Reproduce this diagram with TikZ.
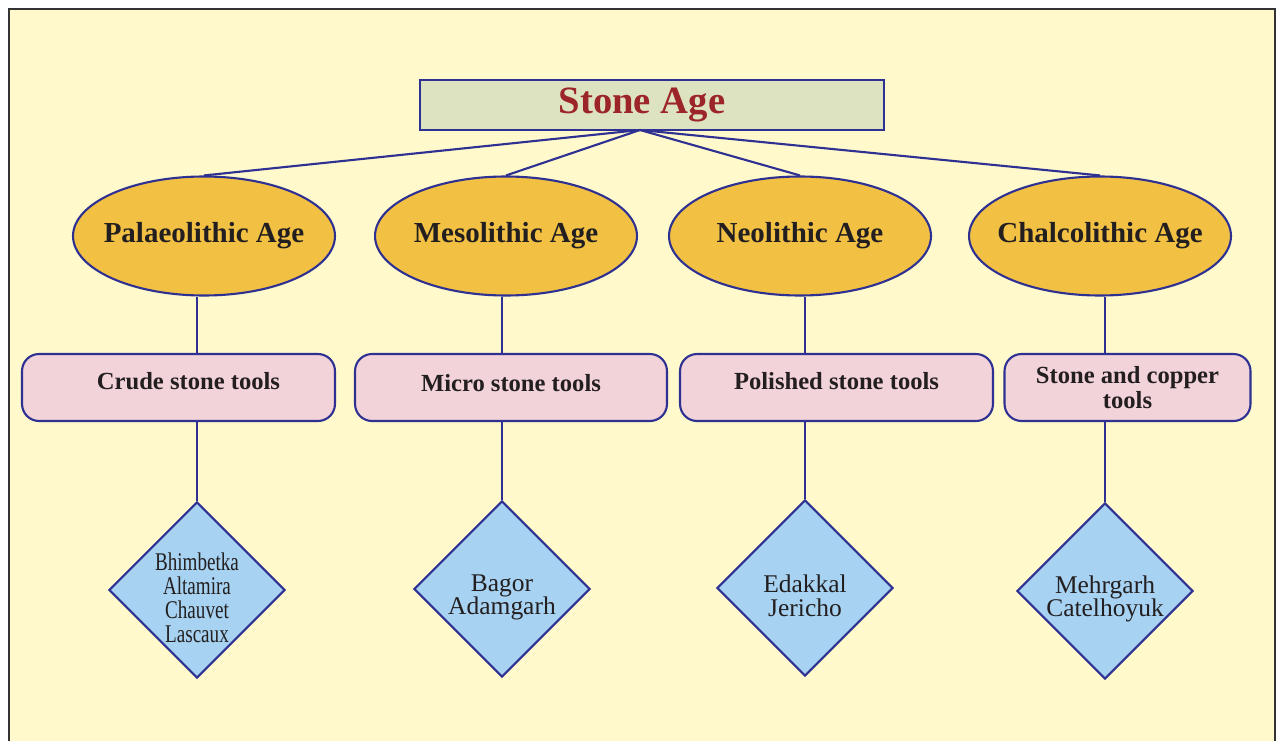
\documentclass[tikz,border=0pt]{standalone}
\usepackage{fontspec}
\setmainfont{Liberation Serif}
\newfontfamily\narrowserif{Liberation Serif}[FakeStretch=0.75]
\usetikzlibrary{shapes.geometric}

\definecolor{paper}{HTML}{FFF9CC}
\definecolor{frameline}{HTML}{333333}
\definecolor{navy}{HTML}{2E3192}
\definecolor{titlefill}{HTML}{DDE3C0}
\definecolor{titletext}{HTML}{9B2529}
\definecolor{agefill}{HTML}{F2C144}
\definecolor{toolfill}{HTML}{F3D3DA}
\definecolor{sitefill}{HTML}{A7D2F1}
\definecolor{ink}{HTML}{231F20}

% strut that pushes the site names a little down
\newcommand{\sitelift}{\rule{0pt}{19pt}}

\begin{document}
\begin{tikzpicture}[
    x=0.02cm, y=-0.02cm,
    titlebox/.style={
      rectangle, draw=navy, line width=1.2pt, fill=titlefill,
      minimum width=9.28cm, minimum height=1cm, inner sep=0pt,
      text=titletext, font=\fontsize{22}{24}\selectfont\bfseries
    },
    agebox/.style={
      ellipse, draw=navy, line width=1.2pt, fill=agefill,
      minimum width=5.24cm, minimum height=2.38cm, inner sep=-9pt,
      text=ink, font=\fontsize{16.5}{19}\selectfont\bfseries
    },
    toolbox/.style={
      rectangle, rounded corners=0.34cm, draw=navy, line width=1.2pt,
      fill=toolfill, minimum height=1.34cm, inner sep=0pt, align=center,
      text=ink, font=\fontsize{14}{14.5}\selectfont\bfseries
    },
    sitebox/.style={
      diamond, draw=navy, line width=1.2pt, fill=sitefill,
      minimum width=3.52cm, minimum height=3.52cm, inner sep=-3pt,
      align=center, text=ink, font=\fontsize{14.5}{13.5}\selectfont
    },
    link/.style={draw=navy, line width=1.2pt}
  ]

  % Page and frame
  \useasboundingbox (0,0) rectangle (1277,740);
  \clip (0,0) rectangle (1277,740);
  \fill[white] (0,0) rectangle (1277,740);
  \filldraw[fill=paper, draw=frameline, line width=1.4pt] (9,9) rectangle (1275,760);

  % Title
  \node[titlebox] (stone) at (652,105) {Stone Age\hspace*{0.4cm}};
  \coordinate (hub) at (640,130);

  % Ages
  \node[agebox] (palaeo) at (204,236) {Palaeolithic Age};
  \node[agebox] (meso) at (506,236) {Mesolithic Age};
  \node[agebox] (neo) at (800,236) {Neolithic Age};
  \node[agebox] (chalco) at (1100,236) {Chalcolithic Age};

  % Tools
  \node[toolbox, minimum width=6.26cm, text depth=7pt] (crude) at (178.5,387.5) {\hspace*{0.4cm}Crude stone tools};
  \node[toolbox, minimum width=6.24cm, text depth=5pt] (micro) at (511,387.5) {Micro stone tools};
  \node[toolbox, minimum width=6.26cm, text depth=7pt] (polished) at (836.5,387.5) {Polished stone tools};
  \node[toolbox, minimum width=4.92cm] (copper) at (1127.5,387.5) {Stone and copper\\tools};

  % Sites
  \node[sitebox] (bhim) at (197,590) {\sitelift\narrowserif Bhimbetka\\\narrowserif Altamira\\\narrowserif Chauvet\\\narrowserif Lascaux};
  \node[sitebox] (bagor) at (502,589) {\sitelift Bagor\\Adamgarh};
  \node[sitebox] (edakkal) at (805,588) {\sitelift Edakkal\\Jericho};
  \node[sitebox] (mehr) at (1105,591) {\sitelift Mehrgarh\\Catelhoyuk};

  % Links
  \foreach \age in {palaeo, meso, neo, chalco}
    \draw[link] (hub) -- (\age.north);
  \foreach \age/\tool/\site in {palaeo/crude/bhim, meso/micro/bagor,
      neo/polished/edakkal, chalco/copper/mehr} {
    \draw[link] (\age.south -| \site.north) -- (\tool.north -| \site.north);
    \draw[link] (\tool.south -| \site.north) -- (\site.north);
  }
\end{tikzpicture}
\end{document}
